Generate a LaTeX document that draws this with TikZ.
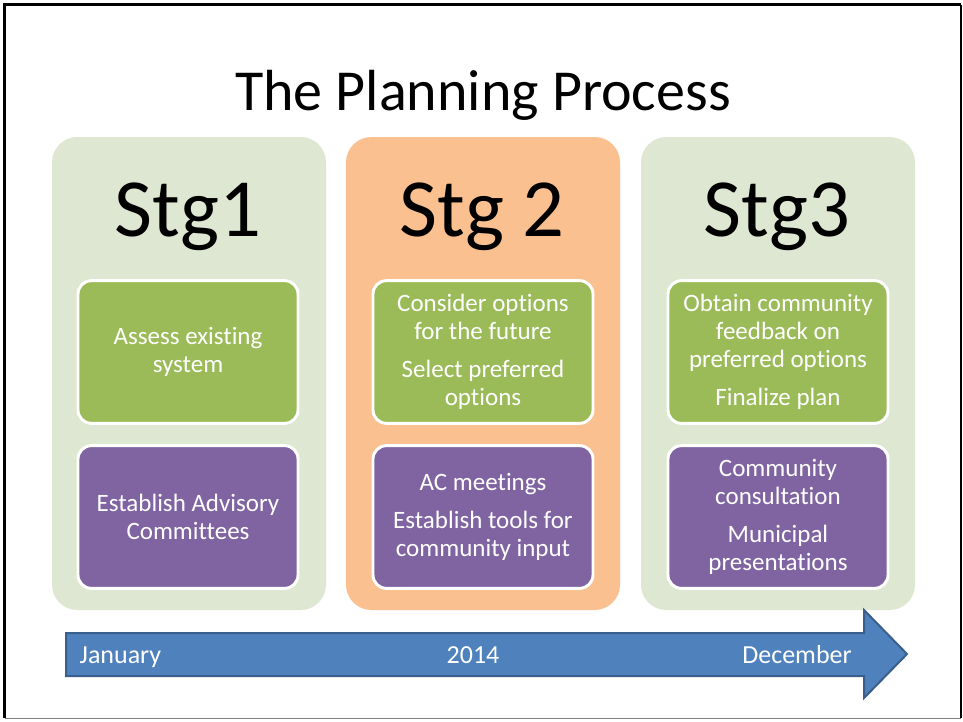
\documentclass[tikz,border=0pt]{standalone}
\usepackage{fontspec}
\setmainfont[Ligatures=NoCommon]{Carlito}
\definecolor{panelgreen}{HTML}{DEE7D2}
\definecolor{panelpeach}{HTML}{FAC090}
\definecolor{boxgreen}{HTML}{9BBB59}
\definecolor{boxpurple}{HTML}{8064A2}
\definecolor{arrowblue}{HTML}{4F81BD}
\definecolor{arrowedge}{HTML}{3A5F8C}
\begin{document}
\begin{tikzpicture}[x=0.75pt,y=-0.75pt,
  panel/.style={rounded corners=19pt, minimum width=205.5pt, minimum height=354.75pt, inner sep=0pt, draw=none},
  stagelabel/.style={anchor=base, font=\fontsize{62pt}{70pt}\selectfont, text=black},
  itembox/.style={rounded corners=10pt, draw=white, line width=2.2pt, minimum width=165pt, minimum height=107pt, inner sep=2pt, align=center, text=white, font=\fontsize{18.75pt}{21pt}\selectfont},
  greenitem/.style={itembox, fill=boxgreen},
  purpleitem/.style={itembox, fill=boxpurple},
  timelabel/.style={anchor=base, text=white, font=\fontsize{19.5pt}{23pt}\selectfont}]
\useasboundingbox (0,0) rectangle (963,721);
\fill[white] (0,0) rectangle (963,721);
% frame
\draw[black, line width=2.4pt] (4.5,718) -- (4.5,4.5) -- (961,4.5);
\draw[black, line width=1.5pt] (961,4.5) -- (961,718);
\draw[gray, line width=1pt] (4.5,718.5) -- (961,718.5);
% title
\node[anchor=base, font=\fontsize{43.5pt}{50pt}\selectfont] (title) at (483,110) {The Planning Process};
% panels
\node[panel, fill=panelgreen] (p1) at (189,373.5) {};
\node[panel, fill=panelpeach] (p2) at (483,373.5) {};
\node[panel, fill=panelgreen] (p3) at (778,373.5) {};
% stage labels
\node[stagelabel] (s1) at (188,236) {Stg1};
\node[stagelabel] (s2) at (482,236) {Stg 2};
\node[stagelabel] (s3) at (777,236) {Stg3};
% items
\node[greenitem] (g1) at (188,352) {Assess existing\\system};
\node[greenitem] (g2) at (483,352) {Consider options\\for the future\\[7.5pt]Select preferred\\options};
\node[greenitem] (g3) at (778,352) {Obtain community\\feedback on\\preferred options\\[7.5pt]Finalize plan};
\node[purpleitem] (u1) at (188,517) {Establish Advisory\\Committees};
\node[purpleitem] (u2) at (483,517) {AC meetings\\[7.5pt]Establish tools for\\community input};
\node[purpleitem] (u3) at (778,517) {Community\\consultation\\[7.5pt]Municipal\\presentations};
% timeline arrow
\draw[fill=arrowblue, draw=arrowedge, line width=1.5pt, line join=miter]
  (66,633) -- (864,633) -- (864,610) -- (907,654) -- (864,698) -- (864,676) -- (66,676) -- cycle;
\node[timelabel, anchor=base west] (jan) at (75,663) {January};
\node[timelabel] (yr) at (473,663) {2014};
\node[timelabel] (dec) at (797,663) {December};
\end{tikzpicture}
\end{document}
